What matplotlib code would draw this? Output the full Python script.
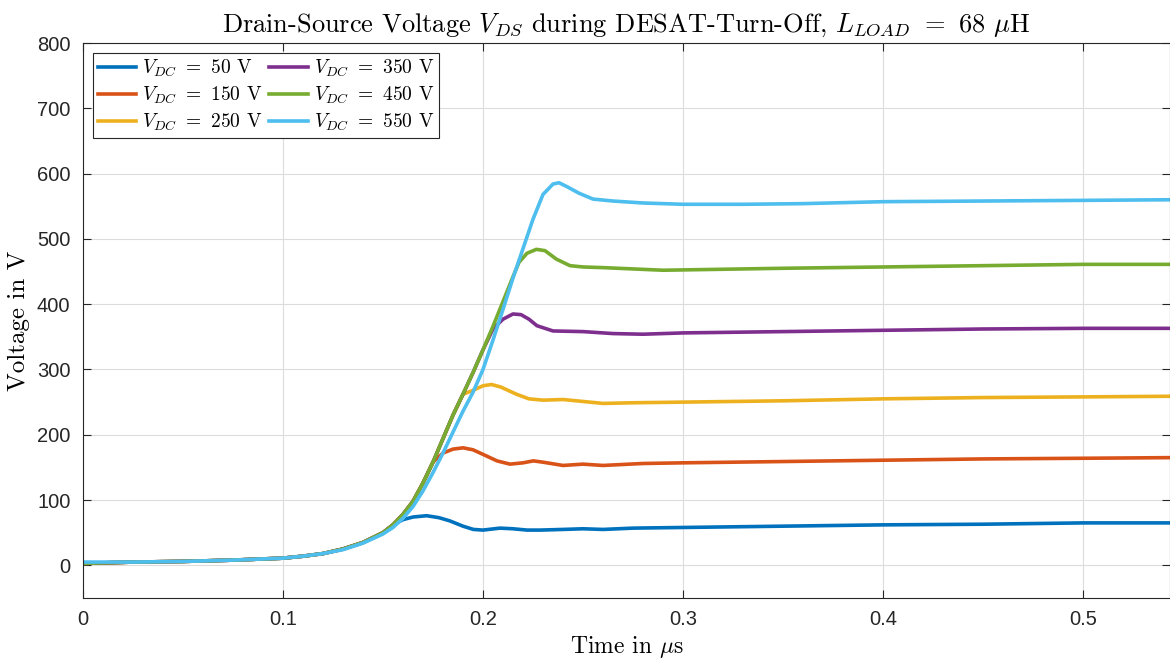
# Drain-source voltage during DESAT turn-off, one trace per DC-link voltage
import matplotlib.pyplot as plt

plt.rcParams["mathtext.fontset"] = "cm"
plt.rcParams["axes.unicode_minus"] = False

# common rising edge (all traces overlap here), time in us, voltage in V
rise_t = [0, 0.025, 0.05, 0.075, 0.1, 0.11, 0.12, 0.13, 0.14, 0.15, 0.155,
          0.16, 0.165, 0.17, 0.175, 0.18, 0.185, 0.19, 0.195, 0.2, 0.205,
          0.21, 0.215]
rise_v = [3, 5, 6, 8, 11, 14, 18, 25, 35, 50, 62,
          78, 98, 126, 158, 194, 230, 262, 295, 330, 366,
          404, 442]

# part of each trace after it leaves the common edge
t50 = [0.16, 0.165, 0.1718, 0.178, 0.1835, 0.19, 0.1952, 0.2, 0.2085, 0.215,
       0.222, 0.2285, 0.24, 0.25, 0.26, 0.275, 0.3, 0.35, 0.4, 0.45, 0.5, 0.545]
v50 = [70, 74, 76, 73, 68, 60, 55, 54, 57, 56,
       54, 54, 55, 56, 55, 57, 58, 60, 62, 63, 65, 65]

t150 = [0.18, 0.185, 0.19, 0.195, 0.2, 0.207, 0.2135, 0.22, 0.2252, 0.23,
        0.24, 0.25, 0.26, 0.28, 0.3, 0.35, 0.4, 0.45, 0.5, 0.545]
v150 = [172, 178, 180, 177, 170, 160, 155, 157, 160, 158,
        153, 155, 153, 156, 157, 159, 161, 163, 164, 165]

t250 = [0.195, 0.2, 0.2043, 0.209, 0.2168, 0.223, 0.23, 0.24, 0.25, 0.26,
        0.275, 0.3, 0.35, 0.4, 0.45, 0.5, 0.545]
v250 = [268, 275, 277, 273, 262, 255, 253, 254, 251, 248,
        249, 250, 252, 255, 257, 258, 259]

t350 = [0.205, 0.21, 0.215, 0.219, 0.223, 0.227, 0.235, 0.25, 0.265, 0.28,
        0.3, 0.35, 0.4, 0.45, 0.5, 0.545]
v350 = [362, 377, 385, 384, 377, 367, 359, 358, 355, 354,
        356, 358, 360, 362, 363, 363]

t450 = [0.218, 0.222, 0.2267, 0.231, 0.2367, 0.2435, 0.25, 0.26, 0.275, 0.29,
        0.31, 0.35, 0.4, 0.45, 0.5, 0.545]
v450 = [464, 478, 484, 482, 469, 459, 457, 456, 454, 452,
        453, 455, 457, 459, 461, 461]

# 550 V trace lags a little on the edge, so it gets its own full arrays
t550 = [0, 0.025, 0.05, 0.075, 0.1, 0.11, 0.12, 0.13, 0.14, 0.15, 0.155,
        0.16, 0.165, 0.17, 0.175, 0.18, 0.185, 0.19, 0.195, 0.2, 0.205,
        0.21, 0.215, 0.22, 0.225, 0.23, 0.235, 0.238, 0.242, 0.248, 0.255,
        0.265, 0.28, 0.3, 0.33, 0.36, 0.4, 0.45, 0.5, 0.545]
v550 = [5, 5, 6, 8, 11, 14, 18, 24, 34, 48, 58,
        72, 90, 114, 142, 172, 204, 236, 265, 300, 345,
        392, 440, 485, 530, 568, 584, 586, 580, 570, 561,
        558, 555, 553, 553, 554, 557, 558, 559, 560]

vdc = [50, 150, 250, 350, 450, 550]
colors = ["#0072BD", "#D95319", "#EDB120", "#7E2F8E", "#77AC30", "#4DBEEE"]


def with_edge(t_tail, v_tail):
    n = sum(1 for t in rise_t if t < t_tail[0])
    return rise_t[:n] + t_tail, rise_v[:n] + v_tail


traces = [with_edge(t50, v50), with_edge(t150, v150), with_edge(t250, v250),
          with_edge(t350, v350), with_edge(t450, v450), (t550, v550)]

fig = plt.figure(figsize=(11.7, 6.62), dpi=100)
ax = fig.add_axes([0.0709, 0.0967, 0.9291, 0.8383])

for (t, v), u, c in zip(traces, vdc, colors):
    ax.plot(t, v, color=c, linewidth=2.6, label=rf"$V_{{DC}}$ $=$ {u} V")

ax.set_xlim(0, 0.5435)
ax.set_ylim(-50, 800)
ax.set_xticks([0, 0.1, 0.2, 0.3, 0.4, 0.5])
ax.set_xticklabels(["0", "0.1", "0.2", "0.3", "0.4", "0.5"])
ax.set_yticks(range(0, 801, 100))

ax.grid(True, color="#dcdcdc", linewidth=0.8)
ax.tick_params(direction="in", length=6, width=0.8, top=True, right=True,
               colors="#262626", labelsize=14.5, pad=9)
for lbl in ax.get_xticklabels() + ax.get_yticklabels():
    lbl.set_fontfamily("Liberation Sans")
for s in ax.spines.values():
    s.set_color("#262626")
    s.set_linewidth(0.8)

ax.set_title(r"Drain-Source Voltage $V_{DS}$ during DESAT-Turn-Off, "
             r"$L_{LOAD}$ $=$ 68 $\mu$H", fontfamily="cmr10", fontsize=19, pad=8)
ax.set_xlabel(r"Time in $\mu$s", fontfamily="cmr10", fontsize=17, labelpad=3)
ax.set_ylabel("Voltage in V", fontfamily="cmr10", fontsize=18, labelpad=5)

leg = ax.legend(ncol=2, loc="upper left", frameon=True,
                fancybox=False, edgecolor="#262626", framealpha=1,
                handlelength=2.0, handletextpad=0.3, columnspacing=0.35,
                labelspacing=0.3, borderpad=0.25, borderaxespad=0.5,
                prop={"family": "cmr10", "size": 14})
leg.get_frame().set_linewidth(0.8)

plt.savefig("out.png", dpi=100)
